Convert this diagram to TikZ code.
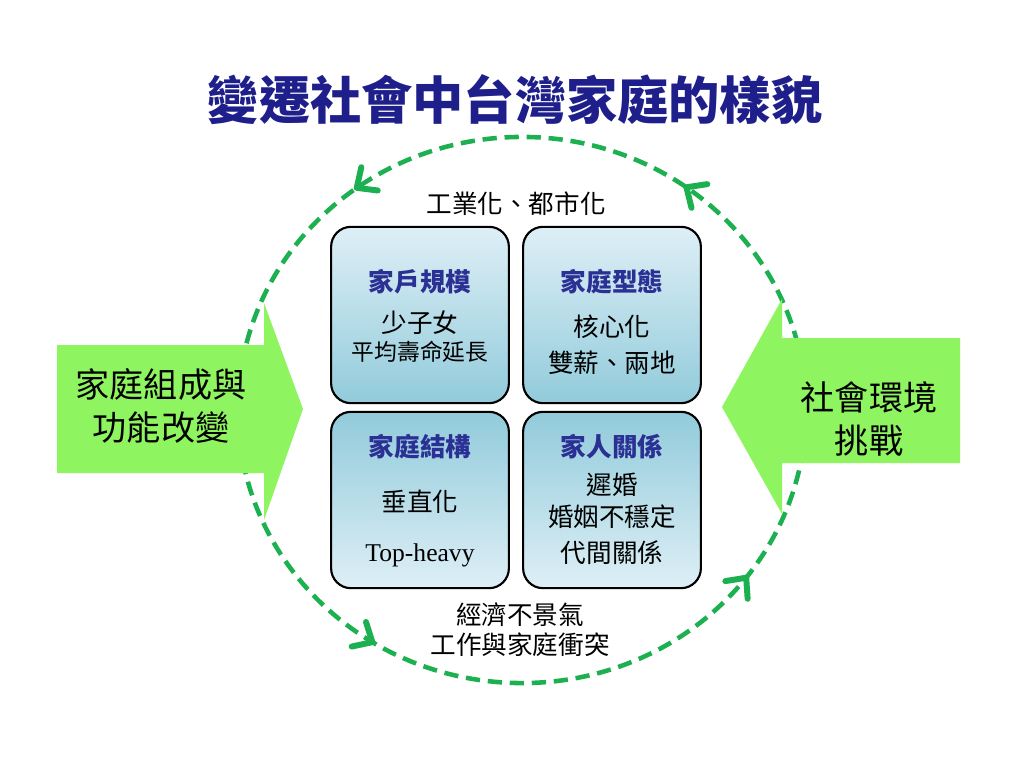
\documentclass[tikz,border=0pt]{standalone}
\usepackage{fontspec}
\setmainfont{Noto Sans CJK TC}
\newfontfamily\romanfont{Liberation Serif}
\usetikzlibrary{arrows.meta, decorations.markings}
\definecolor{titleblue}{RGB}{31,31,140}
\definecolor{headblue}{RGB}{43,48,148}
\definecolor{ringgreen}{RGB}{29,176,80}
\definecolor{arrowgreen}{RGB}{142,244,96}
\definecolor{celllight}{RGB}{222,239,246}
\definecolor{celldark}{RGB}{146,203,219}
\tikzset{
  ringtip/.tip={Straight Barb[length=11pt, width=20pt, line width=4.2pt, round]},
  ringline/.style={ringgreen, line width=3.2pt, dash pattern=on 10pt off 5.5pt},
  cell/.style={draw=black, line width=1.5pt, rounded corners=14pt, minimum width=125pt, minimum height=124pt, inner sep=0pt},
  cellhead/.style={font=\bfseries\fontsize{18}{22}\selectfont, text=headblue},
  celltext/.style={font=\fontsize{18}{22}\selectfont},
  blockarrow/.style={fill=arrowgreen, draw=none},
  arrowtext/.style={font=\fontsize{24}{30}\selectfont, align=center},
}
\begin{document}
\begin{tikzpicture}[x=0.703125pt, y=0.703125pt]
% Page frame, 1024 x 768 px
\fill[white] (0,0) rectangle (1024,-768);
\useasboundingbox (0,0) rectangle (1024,-768);

% Title
\node[font=\bfseries\fontsize{36}{40}\selectfont, text=titleblue] (title) at (515,-100) {變遷社會中台灣家庭的樣貌};

% Dashed ring with its four tips
\pgfmathsetmacro{\cx}{522}
\pgfmathsetmacro{\cy}{-410}
\draw[ringline, postaction={solid, decorate, decoration={markings,
    mark=at position 0.152 with {\arrow{ringtip}},
    mark=at position 0.352 with {\arrow{ringtip}},
    mark=at position 0.662 with {\arrow{ringtip}},
    mark=at position 0.898 with {\arrow{ringtip}}}}]
  (\cx,\cy) ellipse [x radius=199.7pt, y radius=192pt];

% Block arrows
\fill[blockarrow] (57,-345) -- (264,-345) -- (264,-303) -- (303,-409) -- (264,-520) -- (264,-473) -- (57,-473) -- cycle;
\node[arrowtext] (change) at (161,-406) {家庭組成與\\功能改變};
\fill[blockarrow] (960,-338) -- (782,-338) -- (782,-299) -- (722,-407) -- (782,-514) -- (782,-463) -- (960,-463) -- cycle;
\node[arrowtext] (society) at (869,-419) {社會環境\\挑戰};

% The four cells
\node[cell, top color=celllight, bottom color=celldark] (size) at (420,-315) {};
\node[cell, top color=celllight, bottom color=celldark] (type) at (612,-315) {};
\node[cell, top color=celldark, bottom color=celllight] (struct) at (420,-500) {};
\node[cell, top color=celldark, bottom color=celllight] (relation) at (612,-500) {};

% Cell texts
\node[cellhead] (sizehead) at (420,-282) {家戶規模};
\node[celltext] (sizea) at (420,-323) {少子女};
\node[font=\fontsize{16}{20}\selectfont] (sizeb) at (420,-352) {平均壽命延長};
\node[cellhead] (typehead) at (612,-282) {家庭型態};
\node[celltext] (typea) at (612,-327) {核心化};
\node[celltext] (typeb) at (612,-363) {雙薪、兩地};
\node[cellhead] (structhead) at (420,-447) {家庭結構};
\node[celltext] (structa) at (420,-502) {垂直化};
\node[font=\romanfont\fontsize{18}{22}\selectfont] (structb) at (420,-555) {Top-heavy};
\node[cellhead] (relationhead) at (612,-447) {家人關係};
\node[celltext] (relationa) at (612,-485) {遲婚};
\node[celltext] (relationb) at (612,-517) {婚姻不穩定};
\node[celltext] (relationc) at (612,-553) {代間關係};

% Forces around the cells
\node[celltext] (industry) at (516,-204) {工業化、都市化};
\node[celltext] (economy) at (520,-615) {經濟不景氣};
\node[celltext] (conflict) at (520,-645) {工作與家庭衝突};
\end{tikzpicture}
\end{document}
